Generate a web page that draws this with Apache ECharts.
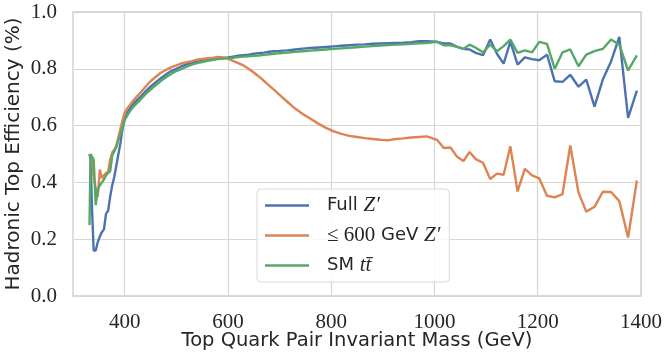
<!DOCTYPE html>
<html>
<head>
<meta charset="utf-8">
<script src="https://cdn.jsdelivr.net/npm/echarts@6/dist/echarts.min.js"></script>
<style>
html,body{margin:0;padding:0;background:#fff;}
#chart{width:665px;height:356px;}
</style>
</head>
<body>
<div id="chart"></div>
<script>
// Top quark pair invariant mass (GeV) bin positions
var massGeV = [332,334,337,340,344,348,352,356,360,364,368,372,376,380,384,388,392,396,400,405,410,415,420,430,440,450,460,470,480,490,500,510,520,530,540,550,560,570,580,590,600,610,620,630,640,650,660,670,680,690,700,715,730,745,760,775,790,805,820,835,850,865,880,895,910,925,940,955,970,985,1005,1018,1031,1044,1056,1068,1080,1094,1108,1121,1134,1147,1161,1175,1189,1203,1218,1233,1248,1263,1279,1294,1310,1326,1342,1358,1375,1392];

// Full Z'
var fullZp = [0.50,0.48,0.30,0.16,0.16,0.19,0.21,0.225,0.235,0.29,0.30,0.35,0.39,0.42,0.46,0.50,0.54,0.59,0.62,0.645,0.66,0.672,0.683,0.70,0.72,0.737,0.752,0.767,0.78,0.792,0.80,0.809,0.816,0.821,0.825,0.828,0.831,0.834,0.836,0.838,0.84,0.843,0.846,0.848,0.85,0.853,0.855,0.857,0.86,0.862,0.863,0.865,0.868,0.871,0.873,0.875,0.877,0.879,0.881,0.883,0.885,0.886,0.888,0.889,0.89,0.891,0.892,0.894,0.897,0.897,0.895,0.889,0.889,0.877,0.870,0.868,0.856,0.848,0.903,0.853,0.818,0.896,0.815,0.840,0.834,0.830,0.850,0.756,0.754,0.779,0.737,0.762,0.667,0.762,0.826,0.912,0.627,0.723];

// <= 600 GeV Z'
var lowZp = [0.50,0.50,0.47,0.42,0.38,0.35,0.445,0.415,0.425,0.433,0.438,0.48,0.505,0.515,0.53,0.56,0.59,0.62,0.645,0.66,0.672,0.684,0.695,0.715,0.736,0.756,0.771,0.786,0.796,0.805,0.812,0.819,0.823,0.827,0.832,0.835,0.837,0.838,0.842,0.84,0.836,0.828,0.82,0.812,0.80,0.787,0.773,0.757,0.741,0.725,0.708,0.684,0.66,0.641,0.624,0.607,0.592,0.58,0.571,0.564,0.56,0.556,0.553,0.55,0.548,0.553,0.555,0.558,0.56,0.562,0.550,0.521,0.523,0.490,0.475,0.507,0.482,0.469,0.412,0.431,0.427,0.527,0.368,0.448,0.425,0.414,0.353,0.347,0.359,0.530,0.364,0.297,0.314,0.367,0.366,0.334,0.206,0.407];

// SM ttbar
var smTT = [0.25,0.50,0.50,0.48,0.32,0.375,0.39,0.40,0.41,0.425,0.433,0.44,0.495,0.51,0.525,0.55,0.57,0.595,0.62,0.635,0.65,0.662,0.672,0.69,0.71,0.727,0.742,0.757,0.77,0.782,0.792,0.80,0.808,0.815,0.82,0.824,0.828,0.831,0.834,0.836,0.837,0.839,0.841,0.843,0.844,0.846,0.847,0.849,0.851,0.853,0.855,0.857,0.86,0.862,0.864,0.866,0.868,0.87,0.872,0.874,0.876,0.878,0.88,0.882,0.884,0.885,0.886,0.888,0.89,0.891,0.895,0.883,0.883,0.877,0.870,0.885,0.874,0.858,0.885,0.862,0.88,0.903,0.856,0.865,0.858,0.895,0.888,0.800,0.858,0.868,0.809,0.850,0.862,0.870,0.903,0.885,0.794,0.847];

var seriesNames = ['Full Z\u2032', '\u2264 600 GeV Z\u2032', 'SM tt\u0304'];
var seriesColors = ['#4c72b0', '#dd8452', '#55a868'];
var xTicks = [400, 600, 800, 1000, 1200, 1400];
var yTicks = [0.0, 0.2, 0.4, 0.6, 0.8, 1.0];

function pairs(ys) { return massGeV.map(function (x, i) { return [x, ys[i]]; }); }

var chart = echarts.init(document.getElementById('chart'), null, {renderer: 'canvas'});
var tickFont = {fontFamily: 'Liberation Serif', fontSize: 21, color: '#262626'};
var sans = 'DejaVu Sans';

var legendRich = {
  s: {fontFamily: sans, fontSize: 18, color: '#262626'},
  mi: {fontFamily: 'Liberation Serif', fontStyle: 'italic', fontSize: 21, color: '#262626'},
  mr: {fontFamily: 'Liberation Serif', fontSize: 21, color: '#262626'}
};
var legendFmt = {};
legendFmt[seriesNames[0]] = '{s|Full }{mi|Z\u2032}';
legendFmt[seriesNames[1]] = '{mr|\u2264 600} {s|GeV} {mi|Z\u2032}';
legendFmt[seriesNames[2]] = '{s|SM }{mi|tt\u0304}';

var dataSets = [fullZp, lowZp, smTT];

chart.setOption({
  animation: false,
  backgroundColor: '#ffffff',
  grid: {left: 73, right: 24, top: 12, bottom: 60, show: true, borderColor: '#cccccc', borderWidth: 1.3, backgroundColor: 'transparent', containLabel: false, outerBoundsMode: 'none'},
  xAxis: {
    type: 'value', min: 300, max: 1400,
    name: 'Top Quark Pair Invariant Mass (GeV)', nameLocation: 'middle', nameGap: 35, nameMoveOverlap: false,
    nameTextStyle: {fontFamily: sans, fontSize: 19.5, color: '#262626'},
    axisLine: {show: false}, axisTick: {show: false, customValues: xTicks},
    axisLabel: Object.assign({margin: 16, customValues: xTicks, formatter: function (v) { return String(v); }}, tickFont),
    splitLine: {show: true, lineStyle: {color: '#d6d6d6', width: 1.2}, customValues: xTicks}
  },
  yAxis: {
    type: 'value', min: 0, max: 1, interval: 0.2,
    name: 'Hadronic Top Efficiency (%)', nameLocation: 'middle', nameGap: 49, nameMoveOverlap: false,
    nameTextStyle: {fontFamily: sans, fontSize: 20, color: '#262626'},
    axisLine: {show: false}, axisTick: {show: false},
    axisLabel: Object.assign({margin: 16, formatter: function (v) { return v.toFixed(1); }}, tickFont),
    splitLine: {show: true, lineStyle: {color: '#d6d6d6', width: 1.2}}
  },
  legend: {
    orient: 'vertical', left: 257, top: 189,
    data: seriesNames,
    icon: 'rect', itemWidth: 44, itemHeight: 2.5, itemGap: 9,
    padding: [6, 9, 6, 8],
    backgroundColor: 'rgba(255,255,255,0.85)', borderColor: '#d9d9d9', borderWidth: 1, borderRadius: 4,
    textStyle: {fontFamily: sans, fontSize: 18, color: '#262626', lineHeight: 21, padding: [0, 0, 0, 13], rich: legendRich},
    formatter: function (n) { return legendFmt[n]; }
  },
  series: dataSets.map(function (d, i) {
    return {
      name: seriesNames[i], type: 'line', data: pairs(d),
      showSymbol: false, symbol: 'none', z: 2 + i,
      lineStyle: {color: seriesColors[i], width: 2.4}, itemStyle: {color: seriesColors[i]}
    };
  })
});
</script>
</body>
</html>
